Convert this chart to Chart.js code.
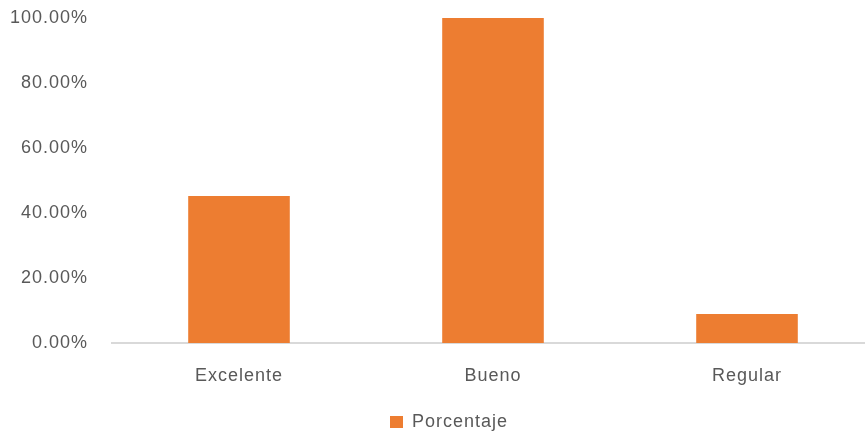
<!DOCTYPE html>
<html>
<head>
<meta charset="utf-8">
<script src="https://cdn.jsdelivr.net/npm/chart.js@4.4.1/dist/chart.umd.min.js"></script>
<style>
  html, body { margin: 0; padding: 0; background: #fff; overflow: hidden; }
  #wrap { width: 898px; height: 441px; position: relative; }
</style>
</head>
<body>
<div id="wrap"><canvas id="ratingChart"></canvas></div>
<script>
const categories = ['Excelente', 'Bueno', 'Regular'];
const porcentaje = [45.2, 100, 8.9];
const seriesLabel = 'Porcentaje';

const textGray = '#595959';
const barOrange = '#ED7D31';
const baseFont = "'Liberation Sans', Arial, sans-serif";

// canvas state is reset on resize, so the letter spacing is set again before each pass
const spacedText = {
    id: 'spacedText',
    beforeUpdate: (chart) => { chart.ctx.letterSpacing = '1px'; },
    beforeDraw: (chart) => { chart.ctx.letterSpacing = '1px'; }
};

const ctx = document.getElementById('ratingChart').getContext('2d');

new Chart(ctx, {
    type: 'bar',
    data: {
        labels: categories,
        datasets: [{
            label: seriesLabel,
            data: porcentaje,
            backgroundColor: barOrange,
            borderWidth: 0,
            categoryPercentage: 1,
            barPercentage: 0.4
        }]
    },
    options: {
        responsive: true,
        maintainAspectRatio: false,
        animation: false,
        layout: {
            padding: { left: 0, right: 0, top: 18, bottom: 0 }
        },
        scales: {
            x: {
                grid: { display: false, drawTicks: false },
                border: { display: true, color: '#d9d9d9', width: 2 },
                ticks: {
                    color: textGray,
                    font: { family: baseFont, size: 18 },
                    padding: 22
                },
                afterFit: (scale) => { scale.height = 70; }
            },
            y: {
                min: 0,
                max: 100,
                grid: { display: false, drawTicks: false },
                border: { display: false },
                ticks: {
                    stepSize: 20,
                    color: textGray,
                    font: { family: baseFont, size: 18 },
                    padding: 24,
                    callback: (v) => v.toFixed(2) + '%'
                },
                afterFit: (scale) => {
                    scale.width = 112;
                    // tick padding should only push labels sideways, not shrink the plot
                    scale.paddingTop = 11;
                    scale.paddingBottom = 11;
                }
            },
            // empty strip on the right so the plot stops short of the edge
            yRight: {
                position: 'right',
                grid: { display: false, drawTicks: false },
                border: { display: false },
                ticks: { display: false },
                afterFit: (scale) => { scale.width = 24; }
            }
        },
        plugins: {
            legend: {
                position: 'bottom',
                labels: {
                    color: textGray,
                    font: { family: baseFont, size: 18 },
                    boxWidth: 13,
                    boxHeight: 12,
                    padding: 0
                }
            },
            tooltip: { enabled: false }
        }
    },
    plugins: [spacedText]
});
</script>
</body>
</html>
